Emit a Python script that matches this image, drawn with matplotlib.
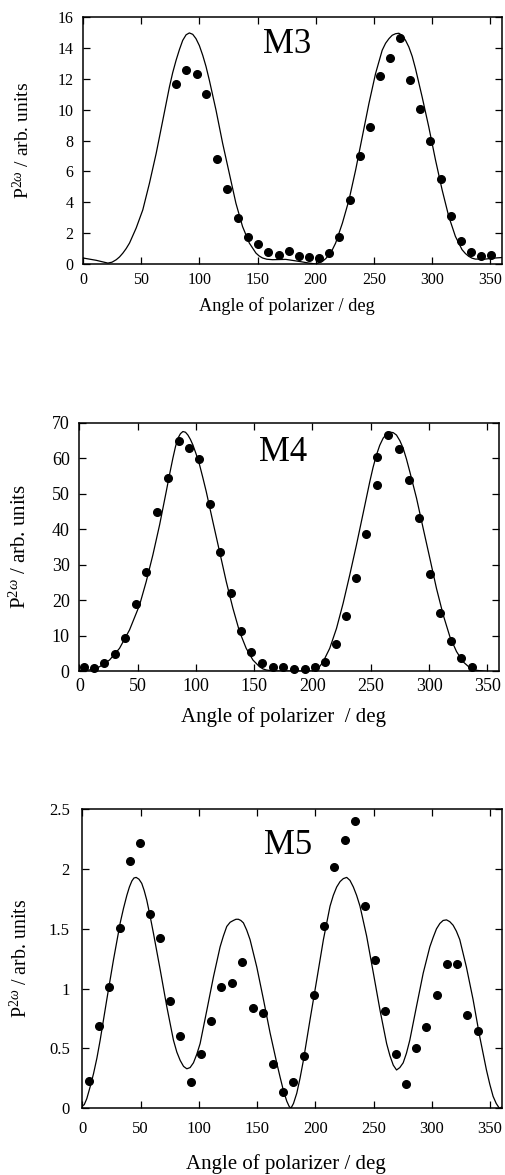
import matplotlib
matplotlib.use("Agg")
import matplotlib.pyplot as plt

plt.rcParams['font.family'] = ['Liberation Serif', 'DejaVu Serif']
plt.rcParams['mathtext.fontset'] = 'custom'
plt.rcParams['mathtext.rm'] = 'Liberation Serif'
plt.rcParams['mathtext.it'] = 'Liberation Serif:italic'

# ---------------- M3 ----------------
m3_pts_x = [80, 88.6, 97.7, 105.7, 114.9, 124, 132.9, 141.4, 150.6, 159.4, 168, 176.6,
            185.7, 194.3, 202.8, 211.4, 220, 229.1, 237.7, 246.3, 254.8, 264, 272.3,
            281.4, 290, 298.5, 307.4, 316.3, 324.9, 333.7, 342.3, 350.9]
m3_pts_y = [11.65, 12.55, 12.34, 11.0, 6.8, 4.87, 2.99, 1.77, 1.31, 0.78, 0.56, 0.84,
            0.5, 0.45, 0.39, 0.71, 1.72, 4.16, 7.0, 8.89, 12.2, 13.35, 14.66,
            11.95, 10.03, 7.99, 5.51, 3.08, 1.46, 0.75, 0.54, 0.58]
m3_fit_x = [0, 11.4, 21.4, 25, 28.6, 31.4, 34.3, 37.1, 40, 45.7, 51.4, 57.1, 62.9, 68.6,
            74.3, 77.1, 80, 82.9, 85.7, 88.6, 91.4, 94.3, 97.1, 100, 102.9, 105.7, 108.6,
            114.3, 120, 125.7, 131.4, 137.1, 142.9, 148.6, 151.4, 154.3, 158, 162.9,
            174.3, 185.7, 194.3, 200, 205.7, 208.6, 211.4, 214.3, 217.1, 222.9, 228.6,
            234.3, 240, 245.7, 251.4, 257.1, 260, 262.9, 265.7, 268.6, 271.4, 274.3,
            277.1, 280, 282.9, 285.7, 291.4, 297.1, 302.9, 308.6, 314.3, 320, 325.7,
            328.6, 331.4, 334.3, 337.1, 345.7, 354.3, 360]
m3_fit_y = [0.39, 0.24, 0.06, 0.12, 0.28, 0.46, 0.71, 1.0, 1.36, 2.33, 3.51, 5.23, 7.17, 9.32,
            11.48, 12.4, 13.2, 13.9, 14.49, 14.85, 14.97, 14.88, 14.6, 14.15, 13.52, 12.8, 11.9,
            9.97, 7.82, 5.88, 3.94, 2.43, 1.36, 0.71, 0.52, 0.39, 0.31, 0.28,
            0.3, 0.17, 0.06, 0.0, 0.17, 0.35, 0.6, 0.93, 1.36, 2.65, 4.16,
            6.1, 8.25, 10.4, 12.34, 13.85, 14.3, 14.6, 14.82, 14.92, 14.95, 14.81,
            14.5, 14.06, 13.45, 12.66, 10.83, 8.89, 6.74, 4.8, 3.08, 1.79, 0.93,
            0.68, 0.5, 0.38, 0.32, 0.32, 0.39, 0.42]
m3_yticks = [0, 2, 4, 6, 8, 10, 12, 14, 16]
m3_yticklabels = ['0', '2', '4', '6', '8', '10', '12', '14', '16']

# ---------------- M4 ----------------
m4_pts_x = [3.5, 12.3, 21.5, 30.7, 39.5, 48.7, 57.3, 66.5, 75.6, 85.1, 94, 102.5, 111.7,
            120.9, 129.8, 138.3, 147.2, 156.7, 166.1, 174.7, 183.9, 193.3, 201.9,
            211.1, 219.9, 229.1, 237.7, 246.3, 255.5, 255.5, 264.7, 274.1, 283,
            291.6, 300.8, 309.4, 318.6, 327.2, 336.6]
m4_pts_y = [1.0, 0.75, 2.2, 4.7, 9.4, 18.8, 28.0, 44.7, 54.5, 64.7, 62.8, 59.7, 47.0,
            33.6, 22.1, 11.3, 5.3, 2.4, 1.2, 1.0, 0.47, 0.47, 1.0,
            2.6, 7.6, 15.6, 26.3, 38.5, 52.3, 60.4, 66.4, 62.6, 53.7,
            43.0, 27.3, 16.3, 8.6, 3.8, 1.0]
m4_fit_x = [0, 8.6, 17.2, 25.8, 34.4, 43, 51.6, 57.3, 63, 68.8, 74.5, 77.4, 80.2, 82.4, 84.5,
            86.7, 88.8, 91, 93.1, 95.2, 97.4, 100.2, 103.1, 105.9, 108.8, 114.5, 120.3,
            126, 131.7, 137.4, 143.1, 148.9, 154.6, 157.5, 160.3, 164.6, 168.9, 185, 200,
            201.7, 203.4, 206.2, 209.1, 214.8, 220.6, 226.3, 232, 237.7, 243.5, 249.2,
            252, 254.9, 257.7, 260.6, 263.5, 266.4, 269.2, 272.1, 275, 277.8, 280.6,
            283.5, 289.3, 295, 300.7, 306.4, 312.2, 317.9, 323.6, 329.3, 335.1, 340.8,
            346.5, 360]
m4_fit_y = [0.2, 0.3, 1.2, 3.1, 6.4, 11.6, 18.6, 25.2, 32.7, 41.2, 50.6, 55.5, 60, 63.2, 65.6,
            66.9, 67.5, 67.3, 66.5, 65.3, 63.7, 61.1, 58.1, 54.5, 50.6, 42.1, 33.6,
            25.2, 17.7, 11.1, 6.4, 3.1, 1.2, 0.6, 0.3, 0.1, 0.0, 0.0, 0.0,
            0.2, 0.5, 1.3, 2.6, 6.4, 12, 19.1, 27.1, 35.5, 44.5, 53.4,
            57.4, 60.9, 63.6, 65.6, 66.8, 67.3, 67.2, 66.5, 64.9, 62.8, 59.8,
            56.2, 48.7, 40.2, 31.8, 23.3, 15.8, 9.7, 5.5, 2.6, 0.9, 0.2,
            0.0, -0.5]
m4_yticks = [0, 10, 20, 30, 40, 50, 60, 70]
m4_yticklabels = ['0', '10', '20', '30', '40', '50', '60', '70']

# ---------------- M5 ----------------
m5_pts_x = [5.2, 14.3, 23.2, 31.8, 40.9, 49.5, 58.1, 66.7, 75.3, 83.8, 93, 101.6, 110.5,
            119.3, 128.5, 137.4, 146.2, 154.8, 163.4, 172.5, 181.1, 190.3, 198.9,
            207.5, 216.1, 225.5, 234.1, 242.7, 251.3, 259.9, 269, 277.6, 286.4,
            295, 304.2, 312.8, 321.9, 330.5, 339.4]
m5_pts_y = [0.23, 0.69, 1.01, 1.51, 2.07, 2.22, 1.62, 1.42, 0.90, 0.60, 0.22, 0.45, 0.73,
            1.01, 1.05, 1.22, 0.84, 0.80, 0.37, 0.14, 0.22, 0.44, 0.95,
            1.52, 2.02, 2.24, 2.40, 1.69, 1.24, 0.81, 0.45, 0.20, 0.50,
            0.68, 0.95, 1.21, 1.21, 0.78, 0.65]
m5_fit_x = [0, 1.5, 3.7, 6.6, 9.5, 12.4, 15.2, 20.9, 26.6, 32.4, 35.2, 38.1, 40.3, 42.4, 44.2,
            46.1, 48.5, 50.9, 53, 55.2, 58, 61, 66.7, 72.4, 78.1, 81, 83.9, 86.8, 89.6,
            92.4, 95.3, 98.1, 101, 106.8, 112.5, 118.2, 121, 123.9, 126.8, 129.6, 131.8,
            133.9, 136, 138.2, 141, 143.9, 149.7, 155.4, 161.1, 166.8, 169.7, 172.5,
            175.4, 177.5, 179, 181.2, 184, 186.8, 189.7, 195.4, 201.1, 206.9, 212.6,
            215.4, 218.3, 221.2, 224, 226.9, 229.7, 232.6, 235.4, 238.3, 244, 249.8,
            255.5, 261.2, 264, 266.9, 269.7, 272.5, 275.4, 278.2, 281.1, 286.8, 292.6,
            298.3, 301.2, 304, 306.9, 309.7, 312.6, 315.4, 318.3, 321.1, 324, 329.7,
            335.4, 341.1, 346.9, 349.8, 352.6, 355.3, 358, 360]
m5_fit_y = [0.02, 0.03, 0.08, 0.18, 0.29, 0.42, 0.57, 0.91, 1.24, 1.55, 1.67, 1.78, 1.85, 1.9,
            1.925, 1.93, 1.915, 1.88, 1.82, 1.74, 1.61, 1.46, 1.16, 0.85, 0.57, 0.47,
            0.40, 0.35, 0.33, 0.34, 0.38, 0.45, 0.54, 0.82, 1.10, 1.35, 1.44, 1.52, 1.555,
            1.57, 1.58, 1.58, 1.57, 1.55, 1.49, 1.41, 1.18, 0.91, 0.63, 0.38, 0.26,
            0.15, 0.06, 0.015, 0.0, 0.04, 0.125, 0.25, 0.40, 0.74, 1.07, 1.41, 1.69,
            1.78, 1.85, 1.895, 1.92, 1.93, 1.905, 1.85, 1.78, 1.69, 1.44, 1.13,
            0.82, 0.54, 0.44, 0.36, 0.32, 0.34, 0.38, 0.46, 0.57, 0.85, 1.13,
            1.35, 1.43, 1.50, 1.545, 1.57, 1.575, 1.56, 1.53, 1.48, 1.41, 1.18,
            0.91, 0.60, 0.32, 0.2, 0.10, 0.04, 0.0, 0.01]
m5_yticks = [0, 0.5, 1, 1.5, 2, 2.5]
m5_yticklabels = ['0', '0.5', '1', '1.5', '2', '2.5']

xticks = [0, 50, 100, 150, 200, 250, 300, 350]
xticklabels = ['0', '50', '100', '150', '200', '250', '300', '350']

panels = [
    dict(name='M3', px=m3_pts_x, py=m3_pts_y, fx=m3_fit_x, fy=m3_fit_y,
         yt=m3_yticks, ytl=m3_yticklabels, ylim=(0, 16),
         pos=[0.164, 0.7753, 0.828, 0.2102], label_xy=(175, 14.2),
         xlabel='Angle of polarizer / deg', fs=11.5, xpad=6, ypad=7,
         ylfs=14, xlfs=13.2, ylab_x=-0.118, xlab_y=-0.135),
    dict(name='M4', px=m4_pts_x, py=m4_pts_y, fx=m4_fit_x, fy=m4_fit_y,
         yt=m4_yticks, ytl=m4_yticklabels, ylim=(0, 70),
         pos=[0.157, 0.4289, 0.829, 0.2114], label_xy=(175, 61.5),
         xlabel='Angle of polarizer  / deg', fs=13, xpad=5, ypad=7,
         ylfs=15, xlfs=15, ylab_x=-0.117, xlab_y=-0.145),
    dict(name='M5', px=m5_pts_x, py=m5_pts_y, fx=m5_fit_x, fy=m5_fit_y,
         yt=m5_yticks, ytl=m5_yticklabels, ylim=(0, 2.5),
         pos=[0.163, 0.0568, 0.8285, 0.2545], label_xy=(176.5, 2.2),
         xlabel='Angle of polarizer / deg', fs=12, xpad=9, ypad=9,
         ylfs=14.3, xlfs=15, ylab_x=-0.12, xlab_y=-0.152),
]

fig = plt.figure(figsize=(5.06, 11.75), dpi=100)
for p in panels:
    ax = fig.add_axes(p['pos'])
    ax.plot(p['fx'], p['fy'], color='black', lw=0.9, zorder=2,
            solid_joinstyle='round', solid_capstyle='round')
    ax.plot(p['px'], p['py'], 'o', color='black', ms=5.5, zorder=3, clip_on=False)
    ax.set_xlim(0, 360)
    ax.set_ylim(*p['ylim'])
    ax.set_xticks(xticks)
    ax.set_xticklabels(xticklabels)
    ax.set_yticks(p['yt'])
    ax.set_yticklabels(p['ytl'])
    ax.tick_params(axis='both', direction='in', top=True, right=True,
                   length=5, width=0.9, labelsize=p['fs'])
    ax.tick_params(axis='x', pad=p['xpad'])
    ax.tick_params(axis='y', pad=p['ypad'])
    for s in ax.spines.values():
        s.set_linewidth(1.1)
    ax.text(p['label_xy'][0], p['label_xy'][1], p['name'], fontsize=25,
            ha='center', va='center')
    ax.set_ylabel(r'P$^{2\omega}$ / arb. units', fontsize=p['ylfs'])
    ax.yaxis.set_label_coords(p['ylab_x'], 0.5)
    ax.set_xlabel(p['xlabel'], fontsize=p['xlfs'])
    ax.xaxis.set_label_coords(0.486, p['xlab_y'])

fig.savefig('out.png', dpi=100)
